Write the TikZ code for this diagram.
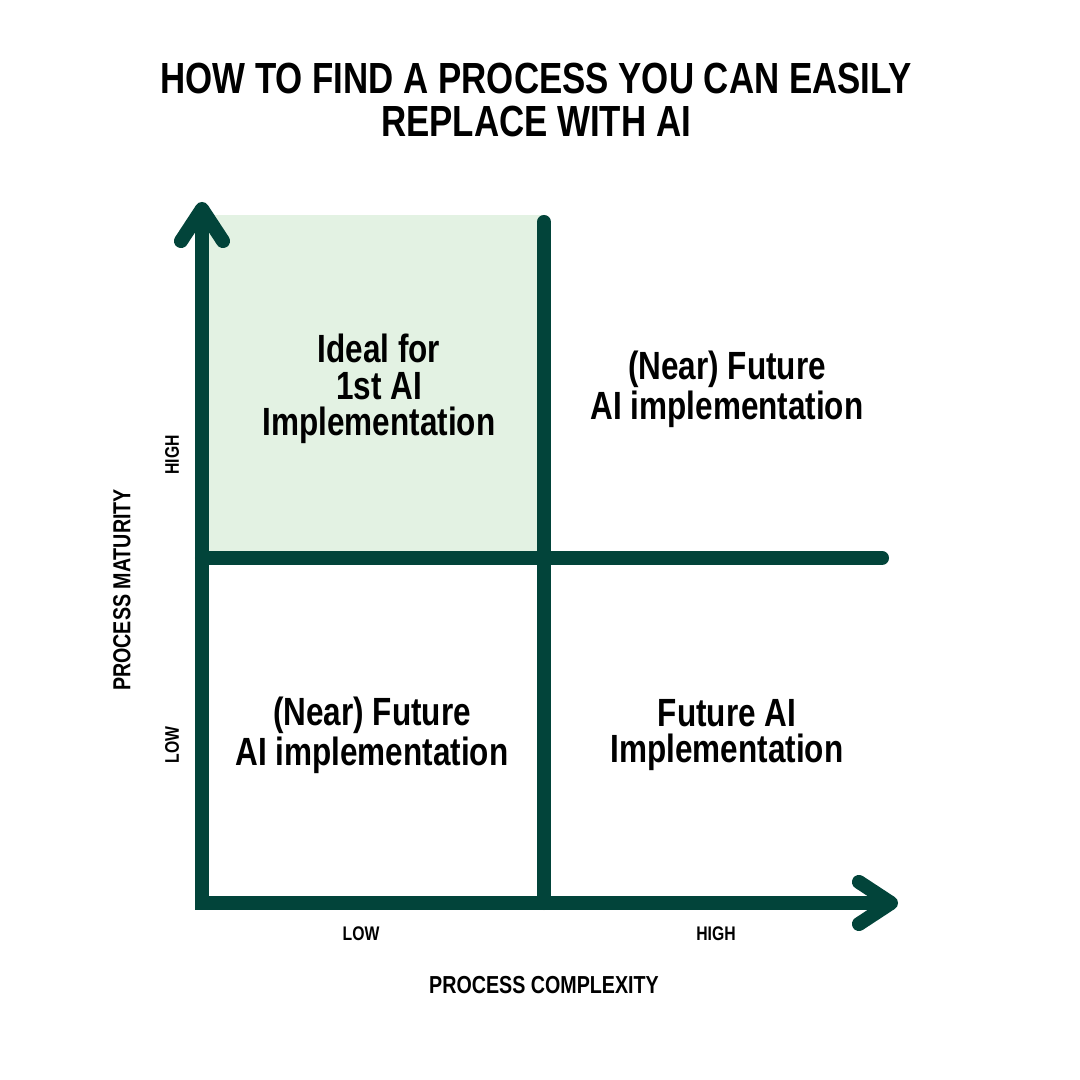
\documentclass[tikz,border=0pt]{standalone}
\usepackage{fontspec}
\setmainfont{Liberation Sans}[FakeStretch=0.8]
\usetikzlibrary{arrows.meta,positioning}
\definecolor{axisgreen}{RGB}{2,68,58}
\definecolor{idealfill}{RGB}{227,242,227}

\begin{document}
\begin{tikzpicture}[
    axis/.style={draw=axisgreen,line width=4pt},
    barb/.style={line join=miter,{Straight Barb[length=3.2mm,width=4.2mm,round]}-{Straight Barb[length=3.2mm,width=4.2mm,round]}},
    quad/.style={align=center,font=\bfseries\fontsize{11.2}{10.4}\selectfont},
    tick/.style={font=\bfseries\fontsize{5.6}{6}\selectfont},
    axlabel/.style={font=\bfseries\fontsize{7}{8}\selectfont},
  ]
    \useasboundingbox[fill=white] (0,0) rectangle (10.8,10.8);
    \node[align=center,font=\bfseries\fontsize{12.4}{12.3}\selectfont] (title) at (5.36,9.80)
      {HOW TO FIND A PROCESS YOU CAN EASILY\\REPLACE WITH AI};
    \fill[idealfill] (2.02,5.22) rectangle (5.44,8.65);
    \coordinate (O)    at (2.02,1.77);
    \coordinate (ytip) at (2.02,8.78);
    \coordinate (xtip) at (8.98,1.77);
    \coordinate (vtop) at (5.44,8.58);
    \coordinate (vbot) at (5.44,1.77);
    \coordinate (hleft)  at (2.02,5.22);
    \coordinate (hright) at (8.82,5.22);
    \draw[axis,line cap=round] (vbot) -- (vtop);
    \draw[axis,line cap=round] (hleft) -- (hright);
    \draw[axis,barb] (ytip) -- (O) -- (xtip);
    \node[quad] (ideal)  at (3.79,6.91) {Ideal for\\1st AI\\Implementation};
    \node[quad] (nearTR) at (7.27,6.91) {(Near) Future\\AI implementation};
    \node[quad] (nearBL) at (3.72,3.45) {(Near) Future\\AI implementation};
    \node[quad] (future) at (7.27,3.45) {Future AI\\Implementation};
    \node[tick,rotate=90] (yhigh) at (1.72,6.25) {HIGH};
    \node[tick,rotate=90] (ylow)  at (1.72,3.35) {LOW};
    \node[axlabel,rotate=90] (ylabel) at (1.22,4.90) {PROCESS MATURITY};
    \node[tick] (xlow)  at (3.61,1.46) {LOW};
    \node[tick] (xhigh) at (7.16,1.46) {HIGH};
    \node[axlabel] (xlabel) at (5.44,0.95) {PROCESS COMPLEXITY};
  \end{tikzpicture}
\end{document}
